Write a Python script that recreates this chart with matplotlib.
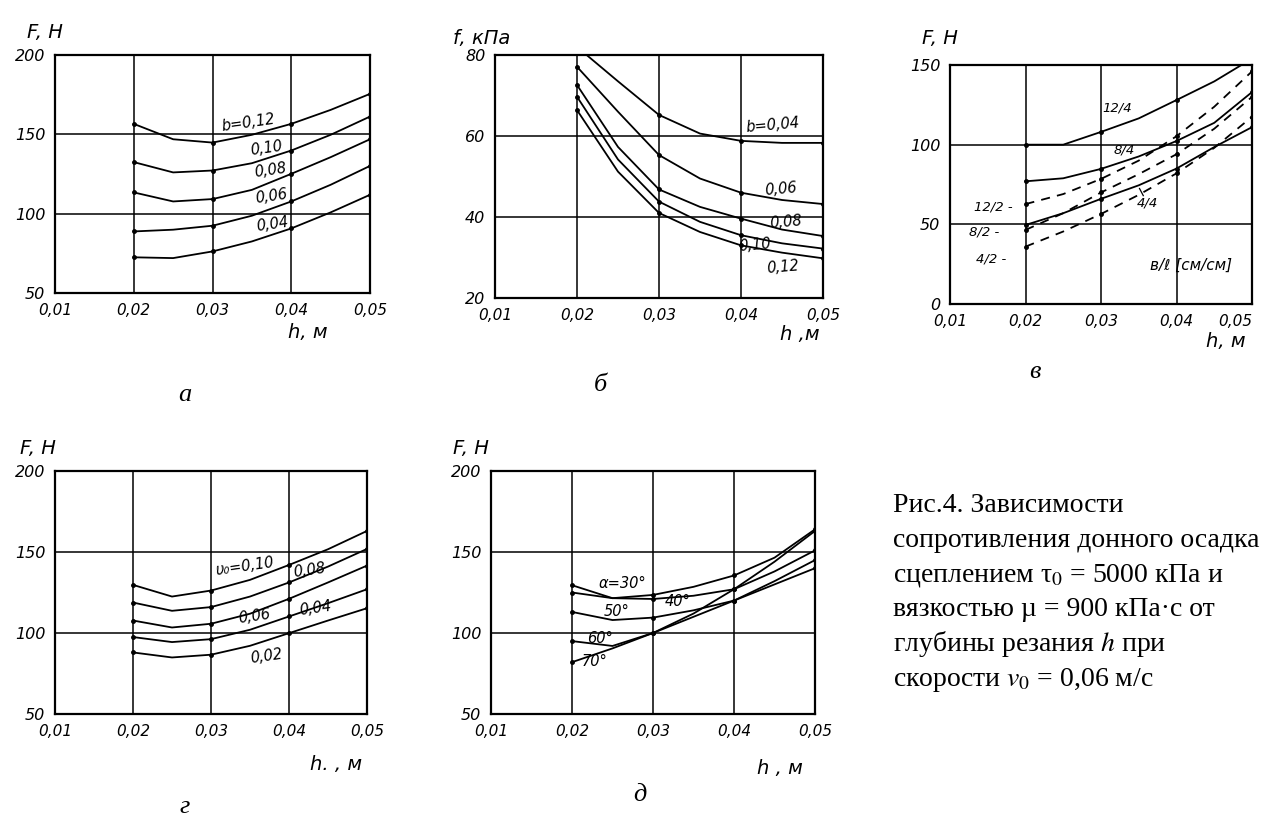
import matplotlib
matplotlib.use("Agg")
import matplotlib.pyplot as plt

W, H = 1263, 823
plt.rcParams['font.family'] = ['DejaVu Sans']
plt.rcParams['mathtext.fontset'] = 'stix'

# common depth points, m
h_pts = [0.02, 0.025, 0.03, 0.035, 0.04, 0.045, 0.05]
x_ticks = [0.01, 0.02, 0.03, 0.04, 0.05]
x_ticklabels = ["0,01", "0,02", "0,03", "0,04", "0,05"]

# а: F(h) for width b
a_labels = ["b=0,12", "0,10", "0,08", "0,06", "0,04"]
a_F = [
    [156.6, 146.9, 144.8, 149.7, 156.6, 165.4, 175.5],
    [132.5, 126.0, 127.2, 131.8, 139.8, 149.7, 161.2],
    [113.4, 107.7, 109.2, 115.0, 125.1, 135.6, 146.9],
    [88.8, 89.9, 92.4, 98.7, 107.7, 118.2, 130.1],
    [72.5, 72.0, 76.2, 82.5, 90.7, 100.8, 111.9],
]

# б: f(h) for width b
b_labels = ["b=0,04", "0,06", "0,08", "0,10", "0,12"]
b_f = [
    [82.0, 73.5, 65.2, 60.6, 58.8, 58.3, 58.3],
    [77.1, 66.0, 55.3, 49.5, 46.0, 44.2, 43.2],
    [72.6, 57.3, 46.8, 42.5, 39.6, 36.9, 35.3],
    [69.7, 54.2, 43.8, 38.8, 35.5, 33.5, 32.2],
    [66.4, 51.2, 41.0, 36.3, 33.0, 31.2, 29.8],
]

# в: F(h) for b/l ratio, solid = /4, dashed = /2
c_solid_labels = ["12/4", "8/4", "4/4"]
c_solid = [
    [100.0, 100.0, 108.0, 116.5, 128.0, 139.7, 154.0],
    [77.0, 78.9, 84.8, 92.6, 102.3, 113.7, 133.0],
    [49.6, 57.0, 66.0, 74.5, 85.0, 98.5, 111.0],
]
c_dash_labels = ["12/2 -", "8/2 -", "4/2 -"]
c_dash = [
    [62.7, 69.0, 78.5, 90.0, 105.3, 123.8, 146.0],
    [46.5, 57.0, 70.0, 81.5, 94.0, 110.0, 130.0],
    [36.0, 45.5, 56.5, 68.5, 82.0, 98.0, 117.5],
]

# г: F(h) for speed v0
d_labels = ["υ₀=0,10", "0,08", "0,06", "0,04", "0,02"]
d_F = [
    [129.7, 122.5, 126.2, 132.8, 142.0, 151.7, 163.0],
    [118.8, 113.7, 116.0, 122.5, 131.2, 141.0, 151.9],
    [107.7, 103.4, 105.7, 111.9, 121.1, 131.2, 141.6],
    [97.5, 94.4, 96.2, 102.0, 110.2, 118.4, 127.0],
    [88.0, 84.9, 86.6, 92.1, 99.9, 107.7, 115.3],
]

# д: F(h) for cutting angle alpha
e_labels = ["α=30°", "40°", "50°", "60°", "70°"]
e_F = [
    [129.5, 121.5, 123.5, 128.5, 135.5, 146.5, 164.0],
    [125.0, 121.5, 121.0, 123.0, 127.0, 138.0, 151.0],
    [113.0, 108.0, 109.5, 114.0, 120.0, 132.0, 145.0],
    [95.0, 92.0, 100.0, 112.0, 127.0, 144.0, 163.0],
    [82.0, 90.5, 100.0, 110.0, 120.0, 130.0, 140.0],
]

caption_lines = [
    "Рис.4. Зависимости",
    "сопротивления донного осадка",
    "сцеплением τ${}_0$ = 5000 кПа и",
    "вязкостью µ = 900 кПа·с от",
    "глубины резания $h$ при",
    "скорости $v_0$ = 0,06 м/с",
]

HAND = dict(fontstyle='italic', family='DejaVu Sans', color='black')
SERIF = ['Liberation Serif', 'DejaVu Serif']


def rect(l, t, r, b):
    return [l / W, 1 - b / H, (r - l) / W, (b - t) / H]


def ftext(x, y, s, **kw):
    fig.text(x / W, 1 - y / H, s, **kw)


def setup(ax, yticks):
    ax.set_xlim(0.01, 0.05)
    ax.set_ylim(yticks[0], yticks[-1])
    ax.set_xticks(x_ticks)
    ax.set_xticklabels(x_ticklabels, fontsize=11, **HAND)
    ax.set_yticks(yticks)
    ax.set_yticklabels([str(v) for v in yticks], fontsize=11.5, **HAND)
    ax.tick_params(length=0, pad=7)
    ax.grid(True, color='black', linewidth=1.1)
    ax.set_axisbelow(True)
    for s in ax.spines.values():
        s.set_linewidth(1.6)


def curve(ax, y, ls='-'):
    ax.plot(h_pts, y, color='black', lw=1.3, ls=ls, marker='o', ms=2.5,
            markevery=[0, 2, 4, 6], dashes=(5, 4) if ls == '--' else (None, None))


fig = plt.figure(figsize=(W / 100, H / 100), dpi=100)

# а
ax = fig.add_axes(rect(55, 55, 370, 293))
setup(ax, [50, 100, 150, 200])
for y in a_F:
    curve(ax, y)
a_pos = [(0.0346, 157), (0.0368, 141), (0.0373, 127.6), (0.0375, 110.8), (0.0376, 93)]
for (x, y), s in zip(a_pos, a_labels):
    ax.text(x, y, s, fontsize=10.5, ha='center', va='center', rotation=8, **HAND)

# б
ax = fig.add_axes(rect(495, 55, 823, 298))
setup(ax, [20, 40, 60, 80])
for y in b_f:
    curve(ax, y)
b_pos = [(0.0439, 62.7), (0.0449, 47.0), (0.0455, 38.8), (0.0417, 33.0), (0.0451, 27.7)]
for (x, y), s in zip(b_pos, b_labels):
    ax.text(x, y, s, fontsize=10.5, ha='center', va='center', rotation=5, **HAND)

# в
ax = fig.add_axes(rect(950, 65, 1252, 304))
setup(ax, [0, 50, 100, 150])
ax.get_xticklabels()[-1].set_horizontalalignment('right')
for y in c_solid:
    curve(ax, y)
for y in c_dash:
    curve(ax, y, '--')
c_pos = [(0.0322, 122.8), (0.0331, 96.7), (0.0362, 63.2)]
for (x, y), s in zip(c_pos, c_solid_labels):
    ax.text(x, y, s, fontsize=9.5, ha='center', va='center', **HAND)
ax.plot([0.0356, 0.0351], [68, 72.5], color='black', lw=0.9)
c_dpos = [(0.0158, 61), (0.0145, 45), (0.0155, 28)]
for (x, y), s in zip(c_dpos, c_dash_labels):
    ax.text(x, y, s, fontsize=9.5, ha='center', va='center', **HAND)
ax.text(0.0419, 24.5, "в/ℓ [см/см]", fontsize=11, ha='center', va='center', **HAND)

# г
ax = fig.add_axes(rect(55, 471, 367, 714))
setup(ax, [50, 100, 150, 200])
for y in d_F:
    curve(ax, y)
d_pos = [(0.0343, 141), (0.0426, 139), (0.0355, 110), (0.0434, 115.4), (0.0371, 85.6)]
for (x, y), s in zip(d_pos, d_labels):
    ax.text(x, y, s, fontsize=10.5, ha='center', va='center', rotation=8, **HAND)

# д
ax = fig.add_axes(rect(491, 471, 815, 714))
setup(ax, [50, 100, 150, 200])
for y in e_F:
    curve(ax, y)
e_pos = [(0.0262, 130.5), (0.0330, 119.5), (0.0255, 113.3), (0.0234, 96.9), (0.0228, 82.5)]
for (x, y), s in zip(e_pos, e_labels):
    ax.text(x, y, s, fontsize=10.5, ha='center', va='center', **HAND)

# axis titles (hand-lettered)
for x, y, s in [(27, 32, "F, Н"), (453, 38, "f, кПа"), (922, 38, "F, Н"),
                (20, 448, "F, Н"), (453, 449, "F, Н")]:
    ftext(x, y, s, fontsize=14, ha='left', va='center', **HAND)
for x, y, s in [(308, 332, "h, м"), (800, 335, "h ,м"), (1226, 342, "h, м"),
                (336, 764, "h. , м"), (780, 768, "h , м")]:
    ftext(x, y, s, fontsize=14, ha='center', va='center', **HAND)

# panel letters
for x, y, s in [(185, 395, "а"), (600, 385, "б"), (1035, 372, "в"),
                (185, 807, "г"), (640, 795, "д")]:
    ftext(x, y, s, fontsize=19, ha='center', va='center', family=SERIF, fontstyle='italic')

# caption
for i, line in enumerate(caption_lines):
    ftext(893, 512 + 34.8 * i, line, fontsize=20, ha='left', va='baseline', family=SERIF)

fig.savefig("out.png", dpi=100)
